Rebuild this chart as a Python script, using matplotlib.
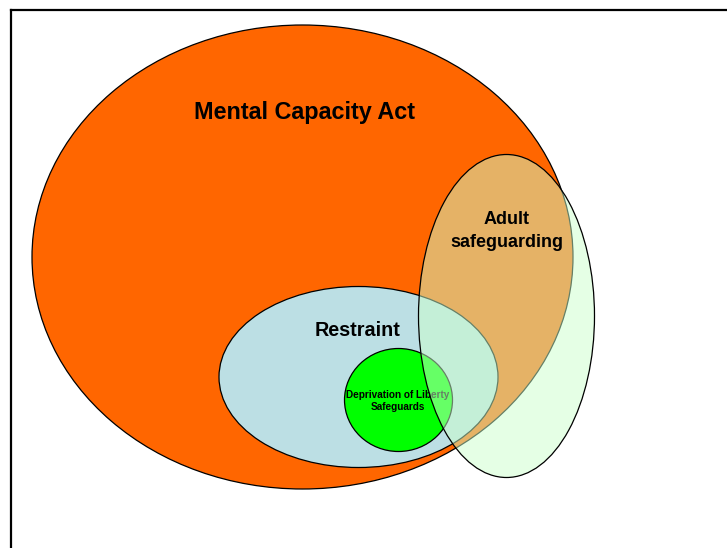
import matplotlib
matplotlib.use("Agg")
import matplotlib.pyplot as plt
from matplotlib.patches import Ellipse

plt.rcParams["font.family"] = ["Liberation Sans", "DejaVu Sans"]

# Sets in the diagram (drawing order)
sets = ["Mental Capacity Act", "Restraint", "Deprivation of Liberty\nSafeguards",
        "Adult\nsafeguarding"]

# Layout in pixel coordinates of the 727x548 canvas
centers = [(302.5, 257), (358.5, 377), (398.5, 400), (506.5, 316)]
widths = [541, 279, 108, 176]
heights = [464, 181, 103, 323]
fills = ["#FF6600", "#BCDFE4", "#00FF00", "#CCFFCC"]
alphas = [1.0, 1.0, 1.0, 0.5]

label_pos = [(305, 113), (358, 331), (398, 401), (507, 231)]
label_size = [16.8, 14.2, 7.2, 13]
label_spacing = [1.2, 1.2, 1.2, 1.45]

fig = plt.figure(figsize=(7.27, 5.48), dpi=100)
ax = fig.add_axes([0, 0, 1, 1])
ax.set_xlim(0, 727)
ax.set_ylim(548, 0)
ax.axis("off")

# frame (open to the right and bottom)
ax.plot([11, 11], [560, 10], color="black", lw=1.6, solid_capstyle="projecting")
ax.plot([11, 740], [10, 10], color="black", lw=1.6, solid_capstyle="projecting")

for i, name in enumerate(sets):
    (cx, cy) = centers[i]
    ax.add_patch(Ellipse((cx, cy), widths[i], heights[i],
                         facecolor=fills[i], alpha=alphas[i], edgecolor="none",
                         zorder=2 + i))
    ax.add_patch(Ellipse((cx, cy), widths[i], heights[i],
                         facecolor="none", edgecolor="black", lw=0.9,
                         zorder=2 + i))

# labels: the DoLS label sits under the translucent safeguarding ellipse
for i, name in enumerate(sets):
    z = 4.5 if i == 2 else 10
    ax.text(label_pos[i][0], label_pos[i][1], name, ha="center", va="center",
            fontsize=label_size[i], fontweight="bold", color="black",
            linespacing=label_spacing[i], zorder=z)

fig.savefig("out.png", dpi=100)
